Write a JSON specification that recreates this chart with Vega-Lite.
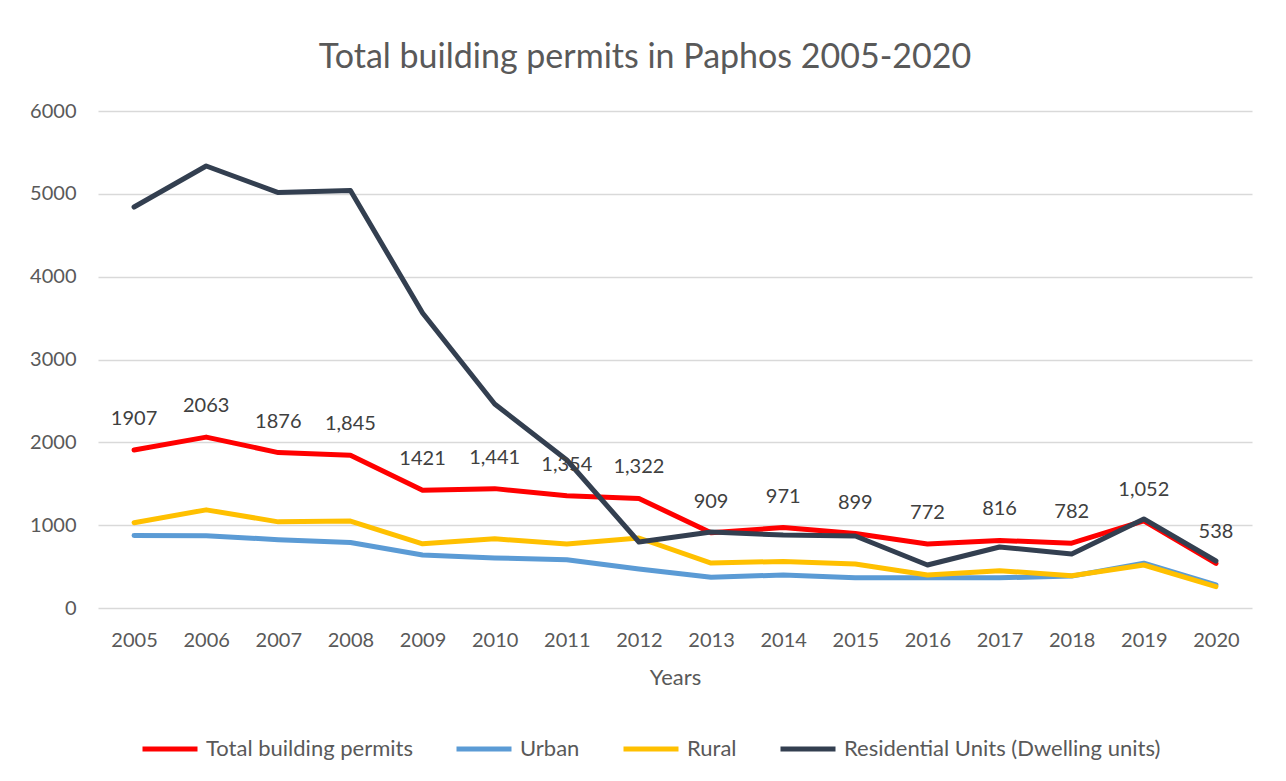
{
  "$schema": "https://vega.github.io/schema/vega-lite/v6.json",
  "width": 1154,
  "height": 497,
  "autosize": {"type": "none"},
  "padding": {"left": 98, "top": 111, "right": 34, "bottom": 173},
  "background": "white",
  "title": {
    "text": "Total building permits in Paphos 2005-2020",
    "font": "Lato",
    "fontSize": 34,
    "fontWeight": "normal",
    "color": "#595959",
    "anchor": "middle",
    "dx": -30,
    "offset": 26
  },
  "data": {
    "values": [
      {"Year": "2005", "Series": "Total building permits", "Value": 1907, "Label": "1907"},
      {"Year": "2006", "Series": "Total building permits", "Value": 2063, "Label": "2063"},
      {"Year": "2007", "Series": "Total building permits", "Value": 1876, "Label": "1876"},
      {"Year": "2008", "Series": "Total building permits", "Value": 1845, "Label": "1,845"},
      {"Year": "2009", "Series": "Total building permits", "Value": 1421, "Label": "1421"},
      {"Year": "2010", "Series": "Total building permits", "Value": 1441, "Label": "1,441"},
      {"Year": "2011", "Series": "Total building permits", "Value": 1354, "Label": "1,354"},
      {"Year": "2012", "Series": "Total building permits", "Value": 1322, "Label": "1,322"},
      {"Year": "2013", "Series": "Total building permits", "Value": 909, "Label": "909"},
      {"Year": "2014", "Series": "Total building permits", "Value": 971, "Label": "971"},
      {"Year": "2015", "Series": "Total building permits", "Value": 899, "Label": "899"},
      {"Year": "2016", "Series": "Total building permits", "Value": 772, "Label": "772"},
      {"Year": "2017", "Series": "Total building permits", "Value": 816, "Label": "816"},
      {"Year": "2018", "Series": "Total building permits", "Value": 782, "Label": "782"},
      {"Year": "2019", "Series": "Total building permits", "Value": 1052, "Label": "1,052"},
      {"Year": "2020", "Series": "Total building permits", "Value": 538, "Label": "538"},
      {"Year": "2005", "Series": "Urban", "Value": 875},
      {"Year": "2006", "Series": "Urban", "Value": 872},
      {"Year": "2007", "Series": "Urban", "Value": 825},
      {"Year": "2008", "Series": "Urban", "Value": 790},
      {"Year": "2009", "Series": "Urban", "Value": 640},
      {"Year": "2010", "Series": "Urban", "Value": 604},
      {"Year": "2011", "Series": "Urban", "Value": 582},
      {"Year": "2012", "Series": "Urban", "Value": 470},
      {"Year": "2013", "Series": "Urban", "Value": 372},
      {"Year": "2014", "Series": "Urban", "Value": 398},
      {"Year": "2015", "Series": "Urban", "Value": 364},
      {"Year": "2016", "Series": "Urban", "Value": 365},
      {"Year": "2017", "Series": "Urban", "Value": 365},
      {"Year": "2018", "Series": "Urban", "Value": 385},
      {"Year": "2019", "Series": "Urban", "Value": 540},
      {"Year": "2020", "Series": "Urban", "Value": 280},
      {"Year": "2005", "Series": "Rural", "Value": 1030},
      {"Year": "2006", "Series": "Rural", "Value": 1185},
      {"Year": "2007", "Series": "Rural", "Value": 1040},
      {"Year": "2008", "Series": "Rural", "Value": 1050},
      {"Year": "2009", "Series": "Rural", "Value": 775},
      {"Year": "2010", "Series": "Rural", "Value": 835},
      {"Year": "2011", "Series": "Rural", "Value": 773},
      {"Year": "2012", "Series": "Rural", "Value": 845},
      {"Year": "2013", "Series": "Rural", "Value": 543},
      {"Year": "2014", "Series": "Rural", "Value": 562},
      {"Year": "2015", "Series": "Rural", "Value": 531},
      {"Year": "2016", "Series": "Rural", "Value": 398},
      {"Year": "2017", "Series": "Rural", "Value": 450},
      {"Year": "2018", "Series": "Rural", "Value": 390},
      {"Year": "2019", "Series": "Rural", "Value": 519},
      {"Year": "2020", "Series": "Rural", "Value": 258},
      {"Year": "2005", "Series": "Residential Units (Dwelling units)", "Value": 4841},
      {"Year": "2006", "Series": "Residential Units (Dwelling units)", "Value": 5336},
      {"Year": "2007", "Series": "Residential Units (Dwelling units)", "Value": 5015},
      {"Year": "2008", "Series": "Residential Units (Dwelling units)", "Value": 5040},
      {"Year": "2009", "Series": "Residential Units (Dwelling units)", "Value": 3561},
      {"Year": "2010", "Series": "Residential Units (Dwelling units)", "Value": 2463},
      {"Year": "2011", "Series": "Residential Units (Dwelling units)", "Value": 1787},
      {"Year": "2012", "Series": "Residential Units (Dwelling units)", "Value": 797},
      {"Year": "2013", "Series": "Residential Units (Dwelling units)", "Value": 917},
      {"Year": "2014", "Series": "Residential Units (Dwelling units)", "Value": 881},
      {"Year": "2015", "Series": "Residential Units (Dwelling units)", "Value": 869},
      {"Year": "2016", "Series": "Residential Units (Dwelling units)", "Value": 519},
      {"Year": "2017", "Series": "Residential Units (Dwelling units)", "Value": 737},
      {"Year": "2018", "Series": "Residential Units (Dwelling units)", "Value": 652},
      {"Year": "2019", "Series": "Residential Units (Dwelling units)", "Value": 1075},
      {"Year": "2020", "Series": "Residential Units (Dwelling units)", "Value": 567}
    ]
  },
  "encoding": {
    "x": {
      "field": "Year",
      "type": "ordinal",
      "scale": {"type": "point", "padding": 0.5},
      "axis": {
        "title": "Years",
        "labelAngle": 0,
        "ticks": false,
        "domain": false,
        "grid": false,
        "labelFont": "Lato",
        "labelFontSize": 20,
        "labelColor": "#595959",
        "labelPadding": 22,
        "titleFont": "Lato",
        "titleFontSize": 22,
        "titleFontWeight": "normal",
        "titleColor": "#595959",
        "titlePadding": 17
      }
    },
    "y": {
      "field": "Value",
      "type": "quantitative",
      "scale": {"domain": [0, 6000]},
      "axis": {
        "title": null,
        "values": [0, 1000, 2000, 3000, 4000, 5000, 6000],
        "format": "d",
        "ticks": false,
        "domain": false,
        "grid": true,
        "gridColor": "#d9d9d9",
        "gridWidth": 1.5,
        "labelFont": "Lato",
        "labelFontSize": 20,
        "labelColor": "#595959",
        "labelPadding": 22
      }
    }
  },
  "layer": [
    {
      "mark": {"type": "line", "strokeWidth": 5, "strokeCap": "round", "strokeJoin": "round"},
      "encoding": {
        "color": {
          "field": "Series",
          "type": "nominal",
          "scale": {
            "domain": ["Total building permits", "Urban", "Rural", "Residential Units (Dwelling units)"],
            "range": ["#ff0000", "#5b9bd5", "#ffc000", "#333f50"]
          },
          "legend": {
            "title": null,
            "orient": "none",
            "direction": "horizontal",
            "legendX": 42,
            "legendY": 608,
            "padding": 0,
            "symbolType": "stroke",
            "symbolSize": 3025,
            "symbolStrokeWidth": 5,
            "labelFont": "Lato",
            "labelFontSize": 22,
            "labelColor": "#595959",
            "labelOffset": 6,
            "columnPadding": 33,
            "labelLimit": 400
          }
        }
      }
    },
    {
      "transform": [{"filter": "datum.Label != null"}],
      "mark": {"type": "text", "dy": -31, "font": "Lato", "fontSize": 20, "color": "#404040"},
      "encoding": {"text": {"field": "Label", "type": "nominal"}}
    }
  ],
  "config": {"view": {"stroke": null}}
}
